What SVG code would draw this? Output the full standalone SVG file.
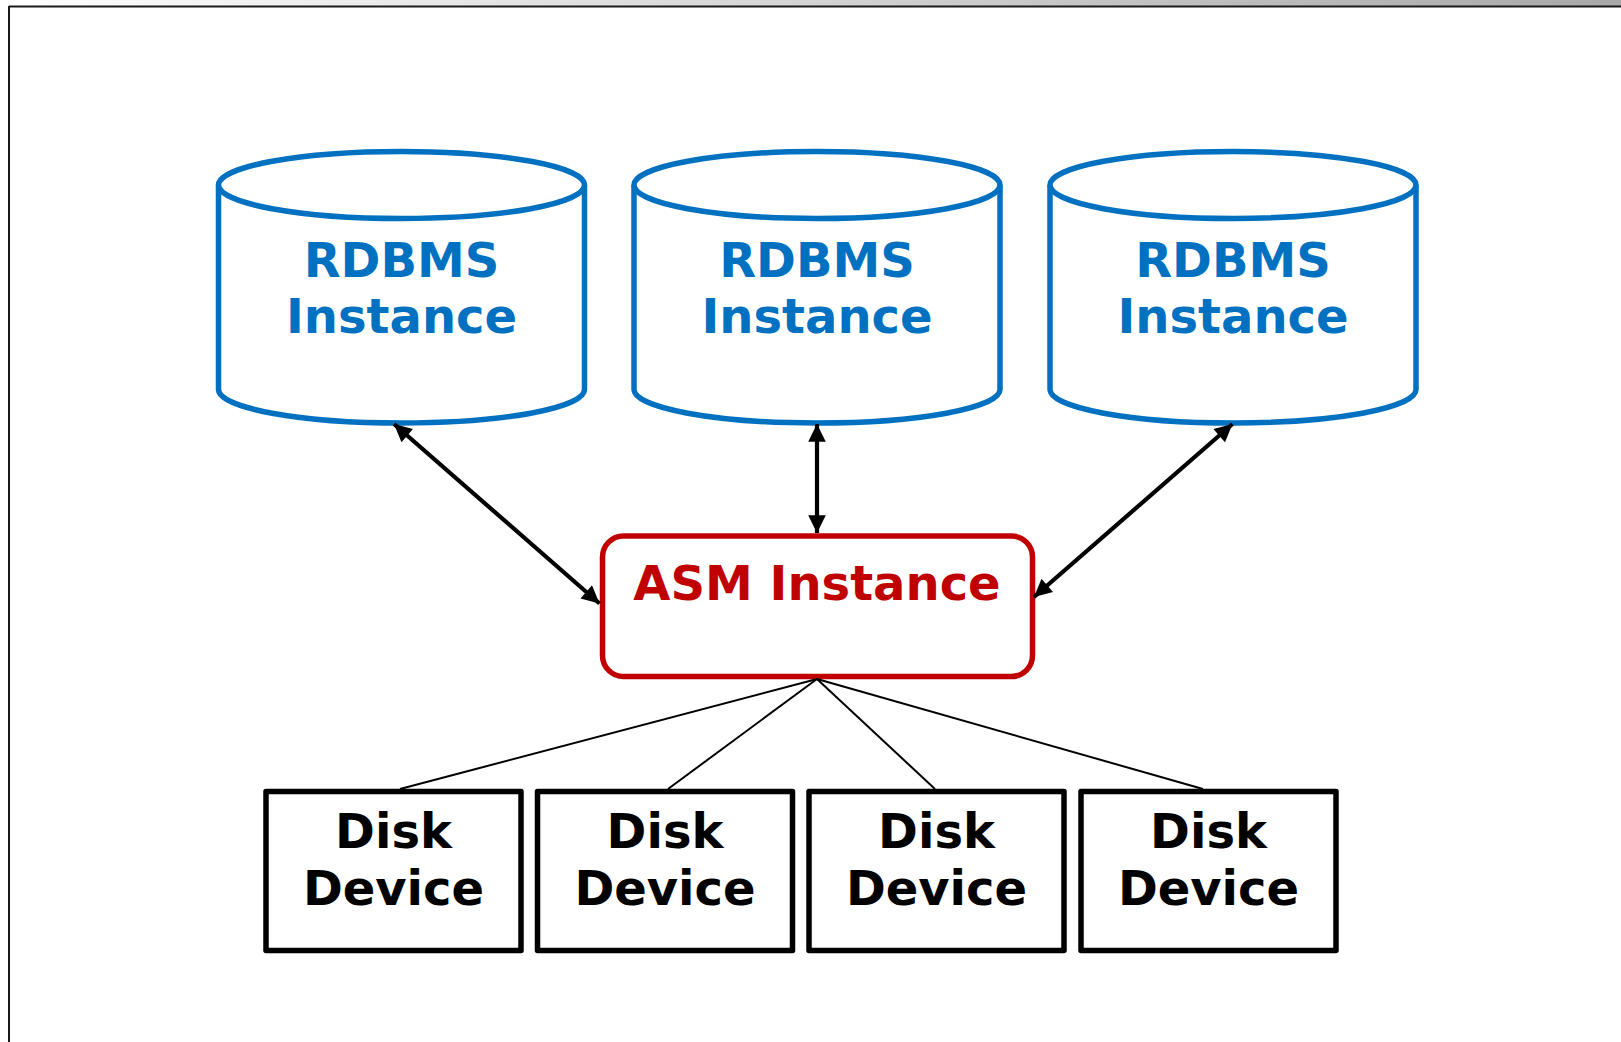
<svg xmlns="http://www.w3.org/2000/svg" width="1621" height="1042" viewBox="0 0 1621 1042">
<defs>
<linearGradient id="band" x1="0" y1="0" x2="1" y2="0">
<stop offset="0" stop-color="#ffffff"/>
<stop offset="1" stop-color="#a8a8a8"/>
</linearGradient>
<marker id="ah" viewBox="0 0 10 10" refX="10" refY="5" markerWidth="4.4" markerHeight="4.2" orient="auto-start-reverse" markerUnits="strokeWidth">
<path d="M0,0 L10,5 L0,10 z" fill="#000"/>
</marker>
<style>
.cyl{fill:#fff;stroke:#0070C0;stroke-width:5.5}
.cylt{font-family:"DejaVu Sans",Verdana,sans-serif;font-weight:bold;font-size:48px;fill:#0070C0;text-anchor:middle}
.asm{fill:#fff;stroke:#C00000;stroke-width:5.5}
.asmt{font-family:"DejaVu Sans",Verdana,sans-serif;font-weight:bold;font-size:48px;fill:#C00000;text-anchor:middle}
.disk{fill:#fff;stroke:#000;stroke-width:5.5;stroke-linejoin:round}
.diskt{font-family:"DejaVu Sans",Verdana,sans-serif;font-weight:bold;font-size:48px;fill:#000;text-anchor:middle}
.arr{stroke:#000;stroke-width:4.2;fill:none;marker-start:url(#ah);marker-end:url(#ah)}
.ln{stroke:#000;stroke-width:2;fill:none}
</style>
</defs>
<rect x="0" y="0" width="1621" height="1042" fill="#fff"/>
<rect x="0" y="0" width="1621" height="6" fill="url(#band)"/>
<g id="frame">
<line x1="9" y1="6.5" x2="1621" y2="6.5" stroke="#1a1a1a" stroke-width="2"/>
<line x1="9" y1="6" x2="9" y2="1042" stroke="#1a1a1a" stroke-width="2"/>
</g>
<g id="rdbms1">
<path class="cyl" d="M218.5,185 L218.5,389.5 A183,33.5 0 0 0 584.5,389.5 L584.5,185"/>
<ellipse class="cyl" cx="401.5" cy="185" rx="183" ry="33.5"/>
<text class="cylt" x="401.5" y="277">RDBMS</text>
<text class="cylt" x="401.5" y="333">Instance</text>
</g>
<g id="rdbms2">
<path class="cyl" d="M634,185 L634,389.5 A183,33.5 0 0 0 1000,389.5 L1000,185"/>
<ellipse class="cyl" cx="817" cy="185" rx="183" ry="33.5"/>
<text class="cylt" x="817" y="277">RDBMS</text>
<text class="cylt" x="817" y="333">Instance</text>
</g>
<g id="rdbms3">
<path class="cyl" d="M1050,185 L1050,389.5 A183,33.5 0 0 0 1416,389.5 L1416,185"/>
<ellipse class="cyl" cx="1233" cy="185" rx="183" ry="33.5"/>
<text class="cylt" x="1233" y="277">RDBMS</text>
<text class="cylt" x="1233" y="333">Instance</text>
</g>
<g id="asm">
<rect class="asm" x="602.5" y="536" width="430" height="140.5" rx="21" ry="21"/>
<text class="asmt" x="817" y="600">ASM Instance</text>
</g>
<g id="disk1">
<rect class="disk" x="266" y="791.5" width="255" height="159"/>
<text class="diskt" x="393.5" y="848">Disk</text>
<text class="diskt" x="393.5" y="905">Device</text>
</g>
<g id="disk2">
<rect class="disk" x="537.5" y="791.5" width="255" height="159"/>
<text class="diskt" x="665" y="848">Disk</text>
<text class="diskt" x="665" y="905">Device</text>
</g>
<g id="disk3">
<rect class="disk" x="809" y="791.5" width="255" height="159"/>
<text class="diskt" x="936.5" y="848">Disk</text>
<text class="diskt" x="936.5" y="905">Device</text>
</g>
<g id="disk4">
<rect class="disk" x="1081" y="791.5" width="255" height="159"/>
<text class="diskt" x="1208.5" y="848">Disk</text>
<text class="diskt" x="1208.5" y="905">Device</text>
</g>
<g id="connectors">
<line class="arr" x1="394" y1="424" x2="599.5" y2="603.5"/>
<line class="arr" x1="817" y1="424" x2="817" y2="533"/>
<line class="arr" x1="1232.5" y1="424" x2="1034" y2="597"/>
<line class="ln" x1="817" y1="679" x2="400" y2="789"/>
<line class="ln" x1="817" y1="679" x2="668" y2="789"/>
<line class="ln" x1="817" y1="679" x2="935" y2="789"/>
<line class="ln" x1="817" y1="679" x2="1203" y2="789"/>
</g>
</svg>
